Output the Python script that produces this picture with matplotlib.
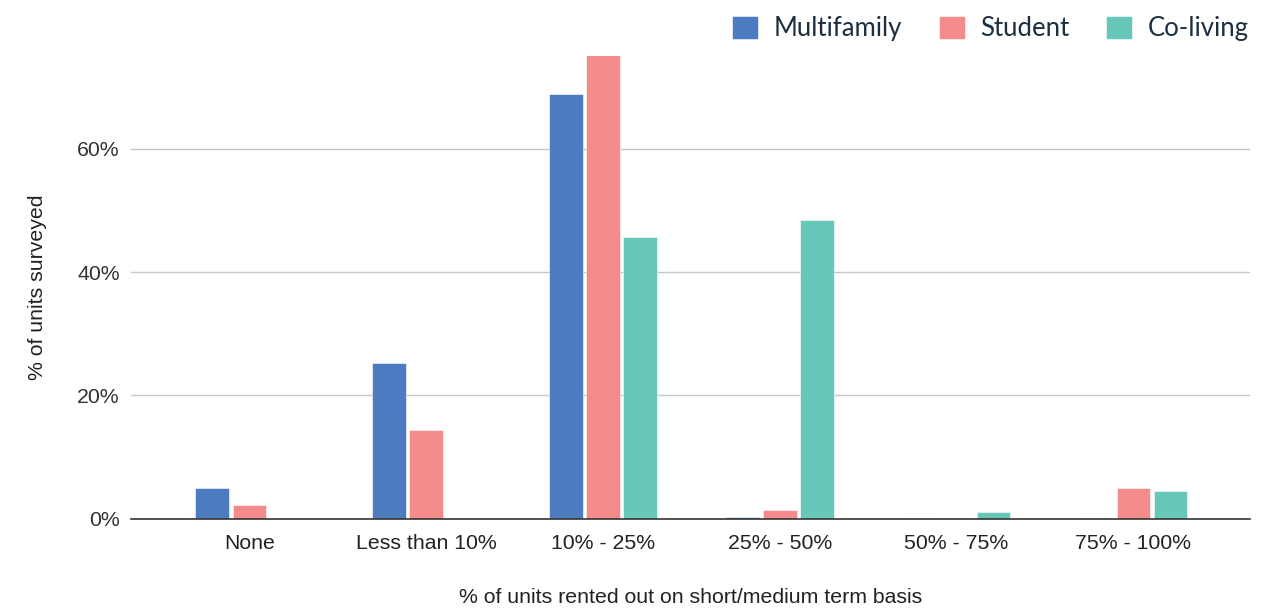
import numpy as np
import matplotlib.pyplot as plt
from matplotlib.ticker import FuncFormatter

categories = ["None", "Less than 10%", "10% - 25%", "25% - 50%", "50% - 75%", "75% - 100%"]
multifamily = [5.0, 25.2, 68.9, 0.3, 0.1, 0.1]
student = [2.3, 14.4, 76.0, 1.5, 0.1, 5.0]
coliving = [0.1, 0.0, 45.6, 48.4, 1.1, 4.5]

series = [("Multifamily", multifamily, "#4d7bbf"),
          ("Student", student, "#f28b8a"),
          ("Co-living", coliving, "#67c7b9")]

fig = plt.figure(figsize=(12.84, 6.09), dpi=100)
ax = fig.add_axes([0.102, 0.148, 0.8715, 0.76])

x = np.arange(len(categories))
width = 0.19
offsets = [-0.21, 0, 0.21]
for (name, vals, color), off in zip(series, offsets):
    ax.bar(x + off, vals, width, color=color, label=name, zorder=3,
           edgecolor="white", linewidth=0.4)

ax.set_xlim(-0.67, 5.66)
ax.set_ylim(0, 75)
ax.set_yticks([0, 20, 40, 60])
ax.yaxis.set_major_formatter(FuncFormatter(lambda v, p: f"{int(v)}%"))
ax.grid(axis="y", color="#c6c6c6", linewidth=1, zorder=0)
for s in ["top", "right", "left"]:
    ax.spines[s].set_visible(False)
ax.spines["bottom"].set_color("#333333")
ax.spines["bottom"].set_linewidth(1.2)
ax.spines["bottom"].set_zorder(4)

fs = 15.3
ax.set_xticks(x)
ax.set_xticklabels(categories)
ax.tick_params(axis="x", length=0, pad=11, labelsize=fs, labelcolor="#222222")
ax.tick_params(axis="y", length=0, pad=8, labelsize=fs, labelcolor="#333333")
for lab in ax.get_xticklabels() + ax.get_yticklabels():
    lab.set_fontfamily("Liberation Sans")

ax.set_xlabel("% of units rented out on short/medium term basis", fontsize=fs,
              fontfamily="Liberation Sans", color="#222222", labelpad=25)
ax.set_ylabel("% of units surveyed", fontsize=fs, fontfamily="Liberation Sans",
              color="#222222", labelpad=22)

leg = fig.legend(loc="upper right", bbox_to_anchor=(0.9905, 1.012), ncol=3, frameon=False,
                 prop={"family": "Lato", "size": 18.5}, handlelength=1.0, handleheight=1.0,
                 columnspacing=1.45, handletextpad=0.6)
for t in leg.get_texts():
    t.set_color("#1c2e40")

fig.savefig("out.png", dpi=100)
